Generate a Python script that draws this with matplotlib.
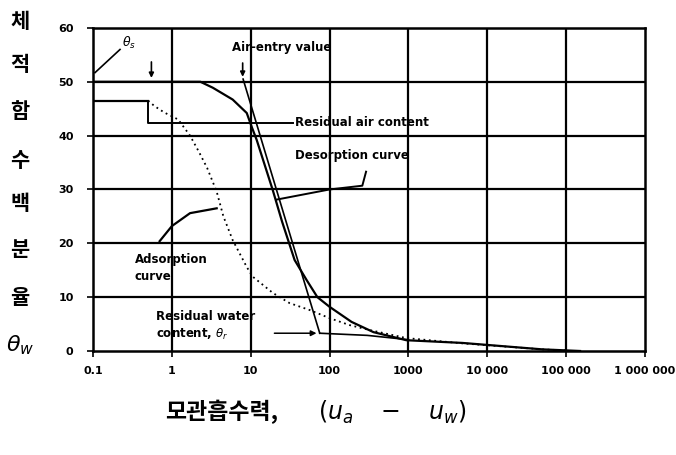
import numpy as np
import matplotlib
matplotlib.use('Agg')
import matplotlib.pyplot as plt

plt.rcParams['font.family'] = ['DejaVu Sans']

# desorption curve (solid)
des_x = [0.1, 2.3, 3.3, 5.9, 8.9, 10.3, 11.9, 19, 25, 36, 51, 70, 100, 190, 360, 940, 4800, 50000, 150000]
des_y = [50, 50, 48.9, 46.7, 44.2, 41.6, 39.2, 29.9, 24, 16.9, 13.2, 10, 8.2, 5.4, 3.5, 2.0, 1.5, 0.3, 0]

# adsorption curve (flat start + dotted)
ads_flat_x = [0.1, 0.5]
ads_flat_y = [46.5, 46.5]
ads_x = [0.5, 0.6, 0.8, 1.2, 1.7, 2.2, 2.8, 3.7, 4.5, 5.9, 8.9, 10.6, 19, 31, 56, 100, 180, 320, 940, 5000, 50000, 100000]
ads_y = [46.5, 45.5, 44.3, 43, 40, 37, 34, 29.6, 25, 20.6, 15.6, 13.8, 10.8, 8.9, 7.6, 6.1, 4.8, 3.9, 2.4, 1.4, 0.3, 0.1]

# tangent construction line and residual line
tan_x = [8.0, 75]
tan_y = [50.5, 3.3]
res_x = [75, 300, 1000]
res_y = [3.3, 2.9, 2.1]

y_ticks = [0, 10, 20, 30, 40, 50, 60]
x_ticks = [0.1, 1, 10, 100, 1000, 10000, 100000, 1000000]
x_tick_labels = ['0.1', '1', '10', '100', '1000', '10 000', '100 000', '1 000 000']

fig = plt.figure(figsize=(6.76, 4.55), dpi=100)
ax = fig.add_axes([0.1376, 0.2286, 0.8166, 0.71])

ax.set_xscale('log')
ax.set_xlim(0.1, 1000000)
ax.set_ylim(0, 60)

for xv in x_ticks[1:-1]:
    ax.axvline(xv, color='black', lw=1.6, zorder=1)
for yv in y_ticks[1:-1]:
    ax.axhline(yv, color='black', lw=1.6, zorder=1)

ax.plot(des_x, des_y, color='black', lw=1.6, zorder=3)
ax.plot(ads_flat_x, ads_flat_y, color='black', lw=1.6, zorder=3)
ax.plot(ads_x, ads_y, color='black', lw=1.3, ls=(0, (1, 2)), zorder=3)
ax.plot(tan_x, tan_y, color='black', lw=1.2, zorder=3)
ax.plot(res_x, res_y, color='black', lw=1.2, zorder=3)

ax.set_xticks(x_ticks)
ax.set_xticklabels(x_tick_labels)
ax.minorticks_off()
ax.set_yticks(y_ticks)
ax.tick_params(axis='both', length=4, width=1.2, labelsize=8, pad=7)
for lab in ax.get_xticklabels() + ax.get_yticklabels():
    lab.set_fontweight('bold')
ax.tick_params(axis='y', pad=10)
for s in ax.spines.values():
    s.set_linewidth(1.8)

# annotations
tfont = dict(fontsize=8.5, color='black', fontweight='bold')

ax.plot([0.106, 0.22], [51.7, 56], color='black', lw=1.2)
ax.text(0.23, 57.3, r'$\theta_s$', fontsize=9, va='center', ha='left')
ax.annotate('', xy=(0.55, 50.2), xytext=(0.55, 54.2),
            arrowprops=dict(arrowstyle='-|>', color='black', lw=1.2, mutation_scale=7))

ax.text(25, 56.3, 'Air-entry value', ha='center', va='center', **tfont)
ax.annotate('', xy=(7.9, 50.4), xytext=(7.9, 54),
            arrowprops=dict(arrowstyle='-|>', color='black', lw=1.2, mutation_scale=7))

ax.plot([0.5, 0.5, 34], [46.5, 42.3, 42.3], color='black', lw=1.4)
ax.text(36, 42.4, 'Residual air content', ha='left', va='center', **tfont)

ax.text(36, 36.3, 'Desorption curve', ha='left', va='center', **tfont)
ax.plot([21, 100, 260, 290], [28.1, 30, 30.7, 33.3], color='black', lw=1.4)

ax.text(0.34, 15.4, 'Adsorption\ncurve', ha='left', va='center', linespacing=1.4, **tfont)
ax.plot([0.7, 1.0, 1.7, 3.7], [20.4, 23.2, 25.6, 26.5], color='black', lw=1.6)

ax.text(0.62, 4.6, 'Residual water\ncontent, ' + r'$\theta_r$', ha='left', va='center',
        linespacing=1.4, **tfont)
ax.annotate('', xy=(74, 3.3), xytext=(18.4, 3.3),
            arrowprops=dict(arrowstyle='-|>', color='black', lw=1.1, mutation_scale=8))

# axis titles (Korean)
kfont = ['Noto Sans CJK KR', 'DejaVu Sans']
y_chars = ['체', '적', '함', '수', '백', '분', '율']
y_pos = [22, 65, 112, 160, 203, 250, 297]
for ch, yp in zip(y_chars, y_pos):
    fig.text(20 / 676, 1 - yp / 455, ch, family=kfont, fontsize=15, fontweight='bold',
             ha='center', va='center')
fig.text(20 / 676, 1 - 345 / 455, r'$\theta_w$', fontsize=16, ha='center', va='center')

fig.text(165 / 676, 1 - 412 / 455, '모관흡수력,', family=kfont, fontsize=16.5, fontweight='bold',
         ha='left', va='center')
fig.text(318 / 676, 1 - 412 / 455, r'$(u_a\quad -\quad u_w)$', fontsize=17, ha='left', va='center')

fig.savefig('out.png', dpi=100)
